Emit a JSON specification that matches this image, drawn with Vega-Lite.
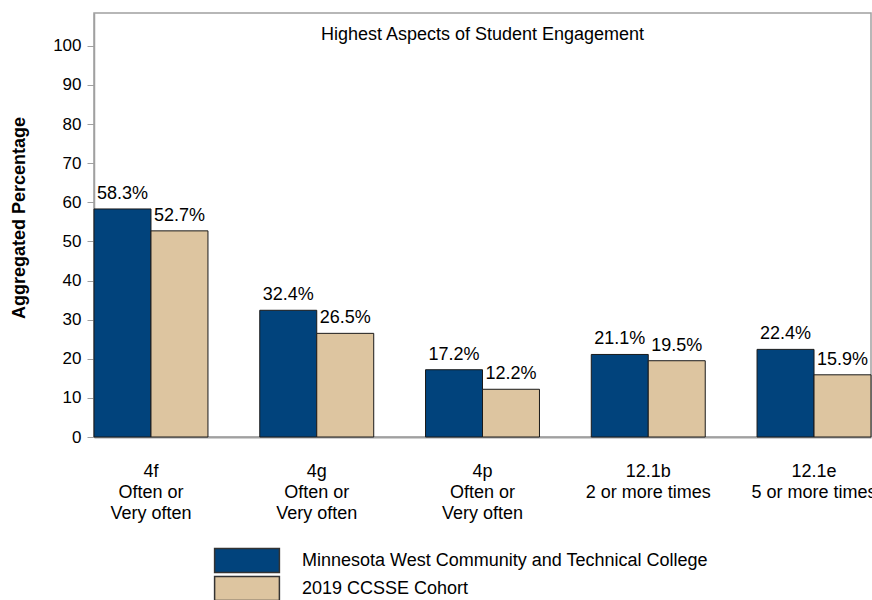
{
  "$schema": "https://vega.github.io/schema/vega-lite/v6.json",
  "width": 777,
  "height": 424,
  "autosize": {"type": "none"},
  "padding": {"left": 94, "top": 13, "right": 1, "bottom": 163},
  "background": "white",
  "config": {
    "font": "Liberation Sans",
    "view": {"stroke": "#a0a0a0", "strokeWidth": 1.5},
    "axis": {"labelFont": "Liberation Sans", "titleFont": "Liberation Sans", "labelColor": "black", "titleColor": "black"}
  },
  "title": {
    "text": "Highest Aspects of Student Engagement",
    "fontSize": 18,
    "fontWeight": "normal",
    "font": "Liberation Sans",
    "anchor": "middle",
    "baseline": "alphabetic",
    "offset": -45,
    "color": "black"
  },
  "data": {
    "values": [
      {"item": "4f|Often or|Very often", "series": "Minnesota West Community and Technical College", "value": 58.3},
      {"item": "4f|Often or|Very often", "series": "2019 CCSSE Cohort", "value": 52.7},
      {"item": "4g|Often or|Very often", "series": "Minnesota West Community and Technical College", "value": 32.4},
      {"item": "4g|Often or|Very often", "series": "2019 CCSSE Cohort", "value": 26.5},
      {"item": "4p|Often or|Very often", "series": "Minnesota West Community and Technical College", "value": 17.2},
      {"item": "4p|Often or|Very often", "series": "2019 CCSSE Cohort", "value": 12.2},
      {"item": "12.1b|2 or more times", "series": "Minnesota West Community and Technical College", "value": 21.1},
      {"item": "12.1b|2 or more times", "series": "2019 CCSSE Cohort", "value": 19.5},
      {"item": "12.1e|5 or more times", "series": "Minnesota West Community and Technical College", "value": 22.4},
      {"item": "12.1e|5 or more times", "series": "2019 CCSSE Cohort", "value": 15.9}
    ]
  },
  "transform": [{"calculate": "format(datum.value, '.1f') + '%'", "as": "label"}],
  "encoding": {
    "x": {
      "field": "item",
      "type": "nominal",
      "sort": null,
      "scale": {"paddingInner": 0.3125, "paddingOuter": 0},
      "axis": {
        "title": null,
        "labelAngle": 0,
        "ticks": false,
        "domainColor": "#a0a0a0",
        "domainWidth": 2,
        "labelFontSize": 18,
        "labelPadding": 25,
        "labelLineHeight": 21,
        "labelExpr": "split(datum.value, '|')"
      }
    },
    "xOffset": {
      "field": "series",
      "type": "nominal",
      "sort": ["Minnesota West Community and Technical College", "2019 CCSSE Cohort"]
    },
    "y": {
      "field": "value",
      "type": "quantitative",
      "scale": {"domain": [0, 108.4], "nice": false},
      "axis": {
        "title": "Aggregated Percentage",
        "titleFontSize": 18,
        "titleFontWeight": "bold",
        "titlePadding": 24,
        "titleY": 204.5,
        "values": [0, 10, 20, 30, 40, 50, 60, 70, 80, 90, 100],
        "grid": false,
        "domainColor": "#a0a0a0",
        "domainWidth": 1.5,
        "tickColor": "#a0a0a0",
        "tickSize": 7,
        "labelFontSize": 17,
        "labelPadding": 6
      }
    }
  },
  "layer": [
    {
      "mark": {"type": "bar", "stroke": "#1a1a1a", "strokeWidth": 1},
      "encoding": {
        "color": {
          "field": "series",
          "type": "nominal",
          "sort": ["Minnesota West Community and Technical College", "2019 CCSSE Cohort"],
          "scale": {"domain": ["Minnesota West Community and Technical College", "2019 CCSSE Cohort"], "range": ["#01437c", "#ddc5a0"]},
          "legend": {
            "title": null,
            "orient": "none",
            "legendX": 140,
            "legendY": 534.5,
            "symbolType": "M-2.7,-1H2.7V1H-2.7Z",
            "symbolSize": 576,
            "symbolStrokeColor": "#333333",
            "symbolStrokeWidth": 1.5,
            "symbolOpacity": 1,
            "rowPadding": -2,
            "labelFontSize": 18,
            "labelOffset": 42,
            "labelColor": "black",
            "labelLimit": 600
          }
        }
      }
    },
    {
      "mark": {"type": "text", "baseline": "alphabetic", "dy": -10, "fontSize": 18, "color": "black"},
      "encoding": {"text": {"field": "label"}}
    }
  ]
}
